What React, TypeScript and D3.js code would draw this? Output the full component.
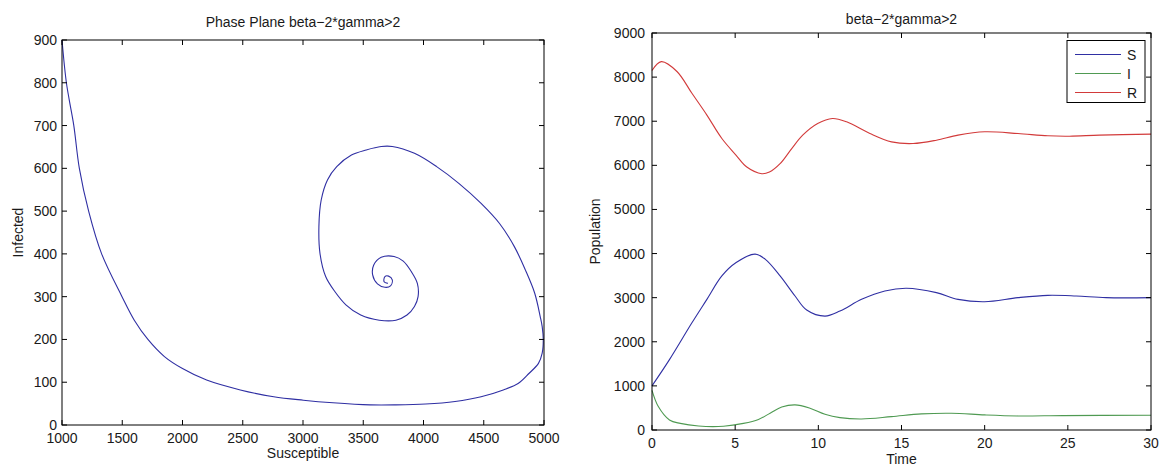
import React from 'react';
import * as d3 from 'd3';

// Phase plane trajectory (Susceptible, Infected)
const PHASE_S = [1000, 1020, 1037, 1060, 1098, 1144, 1221, 1329, 1498, 1600, 1713, 1850, 2000, 2200, 2480, 2757, 3003, 3249, 3556, 3771, 4017, 4262, 4478, 4662, 4785, 4877, 4954, 4985, 4994, 4985, 4969, 4923, 4846, 4754, 4631, 4478, 4293, 4109, 3925, 3741, 3649, 3525, 3402, 3280, 3203, 3151, 3132, 3141, 3188, 3264, 3356, 3479, 3633, 3771, 3863, 3925, 3955, 3949, 3900, 3832, 3756, 3649, 3587, 3578, 3618, 3680, 3726, 3741, 3710, 3680, 3673, 3704];
const PHASE_I = [900, 840, 799, 760, 700, 600, 500, 400, 300, 245, 200, 160, 132, 105, 82, 66, 58, 52, 47, 47, 49, 55, 66, 82, 97, 121, 144, 168, 199, 230, 253, 308, 362, 417, 471, 518, 565, 604, 635, 651, 651, 643, 631, 604, 573, 526, 464, 401, 347, 312, 281, 257, 245, 245, 257, 277, 300, 331, 358, 383, 394, 392, 374, 351, 330, 322, 325, 339, 348, 347, 335, 331];

// Time series
const S_TIME = [0, 1.05, 2.4, 3.3, 4.2, 5.06, 6.2, 6.8, 7.7, 8.6, 9.3, 10.4, 11.3, 12.6, 14, 15.3, 17.1, 18.4, 20, 22, 23.8, 25.5, 27.3, 30];
const S_POP = [1000, 1595, 2430, 2962, 3494, 3797, 3987, 3873, 3494, 3038, 2720, 2582, 2696, 2962, 3152, 3213, 3114, 2962, 2909, 3000, 3053, 3038, 3000, 3000];

const I_TIME = [0, 0.38, 1.05, 1.7, 2.8, 4.3, 5.5, 6.4, 7.1, 7.8, 8.6, 9.5, 10.4, 11.3, 12.6, 14.4, 16.2, 18, 20, 22, 24.7, 30];
const I_POP = [900, 532, 228, 150, 90, 85, 150, 240, 380, 520, 570, 494, 357, 281, 251, 304, 365, 380, 342, 319, 327, 335];

const R_TIME = [0, 0.56, 1.5, 2.4, 3.3, 4.2, 5.06, 5.7, 6.6, 7.06, 7.7, 8.4, 9.06, 9.96, 10.85, 11.7, 13.1, 14.4, 15.7, 17.1, 18.4, 20, 22, 23.8, 25.1, 26.9, 30];
const R_POP = [8150, 8350, 8127, 7633, 7139, 6608, 6228, 5962, 5810, 5848, 6038, 6380, 6684, 6949, 7063, 6987, 6721, 6532, 6494, 6570, 6684, 6760, 6721, 6669, 6661, 6684, 6707];

const LEFT_X_TICKS = [1000, 1500, 2000, 2500, 3000, 3500, 4000, 4500, 5000];
const LEFT_Y_TICKS = [0, 100, 200, 300, 400, 500, 600, 700, 800, 900];
const RIGHT_X_TICKS = [0, 5, 10, 15, 20, 25, 30];
const RIGHT_Y_TICKS = [0, 1000, 2000, 3000, 4000, 5000, 6000, 7000, 8000, 9000];

const LEGEND = ['S', 'I', 'R'];
const COLORS = ['#2f2fa3', '#4f9a52', '#d23a3a'];

const FONT = 'Liberation Sans, Arial, Helvetica, sans-serif';
const TEXT_FILL = '#1a1a1a';

function Frame({ x, y, xTicks, yTicks, yGap }: any) {
  const [x0, x1] = x.range();
  const [y0, y1] = y.range(); // y0 bottom, y1 top
  const tl = 5;
  return (
    <g>
      <rect x={x0} y={y1} width={x1 - x0} height={y0 - y1} fill="none" stroke="#000" strokeWidth={1} />
      {xTicks.map((t: number) => (
        <g key={'x' + t}>
          <line x1={x(t)} x2={x(t)} y1={y0} y2={y0 - tl} stroke="#000" />
          <line x1={x(t)} x2={x(t)} y1={y1} y2={y1 + tl} stroke="#000" />
          <text x={x(t)} y={y0 + 18} textAnchor="middle" fontSize={14} fontFamily={FONT} fill={TEXT_FILL}>{t}</text>
        </g>
      ))}
      {yTicks.map((t: number) => (
        <g key={'y' + t}>
          <line x1={x0} x2={x0 + tl} y1={y(t)} y2={y(t)} stroke="#000" />
          <line x1={x1} x2={x1 - tl} y1={y(t)} y2={y(t)} stroke="#000" />
          <text x={x0 - yGap} y={y(t) + 5} textAnchor="end" fontSize={14} fontFamily={FONT} fill={TEXT_FILL}>{t}</text>
        </g>
      ))}
    </g>
  );
}

export default function App() {
  const xL = d3.scaleLinear().domain([1000, 5000]).range([62, 544]);
  const yL = d3.scaleLinear().domain([0, 900]).range([425, 40]);
  const xR = d3.scaleLinear().domain([0, 30]).range([652, 1151]);
  const yR = d3.scaleLinear().domain([0, 9000]).range([430, 33]);

  const phasePts: [number, number][] = PHASE_S.map((s, i) => [xL(s), yL(PHASE_I[i])]);
  const phasePath = d3.line().curve(d3.curveCatmullRom.alpha(0.5))(phasePts) || '';

  const tsLine = d3.line<[number, number]>()
    .x((d) => xR(d[0]))
    .y((d) => yR(d[1]))
    .curve(d3.curveCatmullRom.alpha(0.5));
  const series = [
    S_TIME.map((t, i) => [t, S_POP[i]] as [number, number]),
    I_TIME.map((t, i) => [t, I_POP[i]] as [number, number]),
    R_TIME.map((t, i) => [t, R_POP[i]] as [number, number]),
  ];

  const lgX = 1067, lgY = 40.5, lgW = 78, lgH = 62;

  return (
    <svg width={1160} height={466} style={{ position: 'absolute', left: 0, top: 0, background: '#fff' }}>
      <rect x={0} y={0} width={1160} height={466} fill="#fff" />
      {/* Left: phase plane */}
      <text x={(62 + 544) / 2} y={27} textAnchor="middle" fontSize={14} fontFamily={FONT} fill={TEXT_FILL}>Phase Plane beta−2*gamma&gt;2</text>
      <path d={phasePath} fill="none" stroke={COLORS[0]} strokeWidth={1.1} />
      <Frame x={xL} y={yL} xTicks={LEFT_X_TICKS} yTicks={LEFT_Y_TICKS} yGap={5} />
      <text x={(62 + 544) / 2} y={458} textAnchor="middle" fontSize={14} fontFamily={FONT} fill={TEXT_FILL}>Susceptible</text>
      <text transform={`translate(23, ${(40 + 425) / 2}) rotate(-90)`} textAnchor="middle" fontSize={14} fontFamily={FONT} fill={TEXT_FILL}>Infected</text>

      {/* Right: time series */}
      <text x={(652 + 1151) / 2} y={24} textAnchor="middle" fontSize={14} fontFamily={FONT} fill={TEXT_FILL}>beta−2*gamma&gt;2</text>
      {series.map((s, i) => (
        <path key={i} d={tsLine(s) || ''} fill="none" stroke={COLORS[i]} strokeWidth={1.1} />
      ))}
      <Frame x={xR} y={yR} xTicks={RIGHT_X_TICKS} yTicks={RIGHT_Y_TICKS} yGap={7} />
      <text x={(652 + 1151) / 2} y={464} textAnchor="middle" fontSize={14} fontFamily={FONT} fill={TEXT_FILL}>Time</text>
      <text transform={`translate(600, ${(33 + 430) / 2}) rotate(-90)`} textAnchor="middle" fontSize={14} fontFamily={FONT} fill={TEXT_FILL}>Population</text>

      {/* Legend */}
      <rect x={lgX} y={lgY} width={lgW} height={lgH} fill="#fff" stroke="#000" strokeWidth={1} />
      {LEGEND.map((name, i) => (
        <g key={name}>
          <line x1={lgX + 8} x2={lgX + 54} y1={lgY + 14 + i * 19} y2={lgY + 14 + i * 19} stroke={COLORS[i]} strokeWidth={1.1} />
          <text x={lgX + 60} y={lgY + 19 + i * 19} fontSize={14} fontFamily={FONT} fill={TEXT_FILL}>{name}</text>
        </g>
      ))}
    </svg>
  );
}
